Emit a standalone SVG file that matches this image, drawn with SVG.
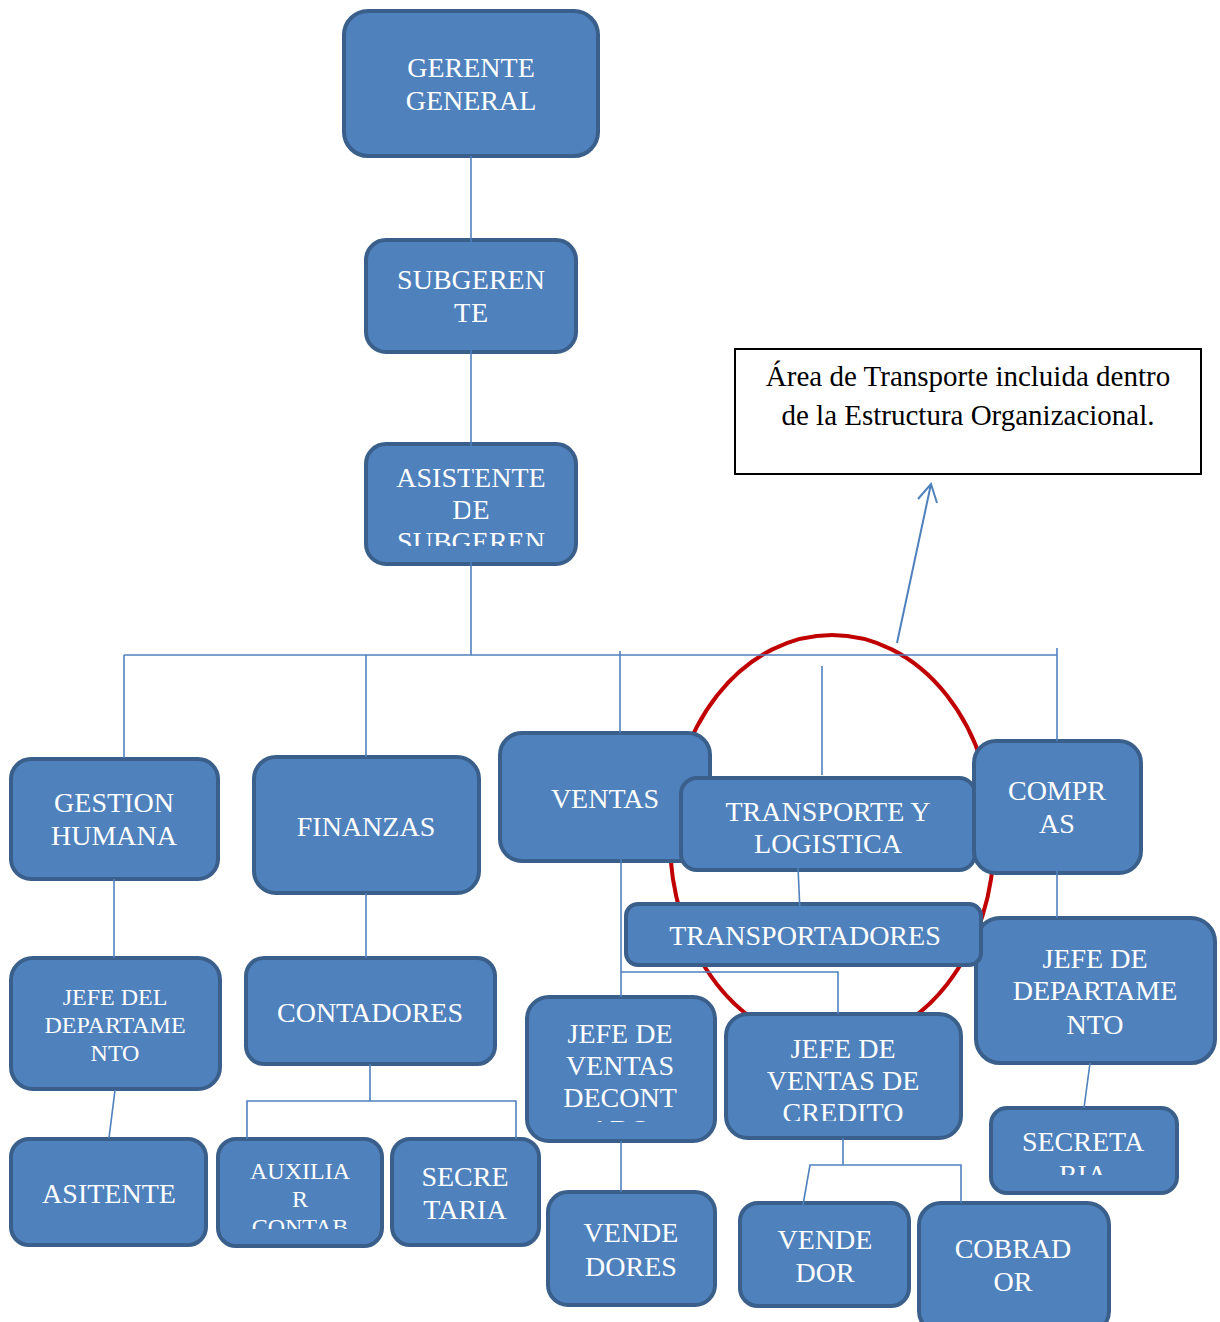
<svg xmlns="http://www.w3.org/2000/svg" width="1220" height="1322" viewBox="0 0 1220 1322">
<style>
.box{fill:#4F81BD;stroke:#3A5F8B;stroke-width:4}
.t{font-family:"Liberation Serif","Times New Roman",serif;font-size:28px;fill:#FFFFFF;text-anchor:middle}
.s{font-size:24px}
.c{fill:none;stroke:#4F81BD;stroke-width:1.6}
.note{font-family:"Liberation Serif","Times New Roman",serif;font-size:29px;fill:#000000;text-anchor:middle}
</style>
<defs>
<clipPath id="cpAsis"><rect x="366" y="444" width="210" height="102"/></clipPath>
<clipPath id="cpAux"><rect x="218" y="1139" width="164" height="90"/></clipPath>
<clipPath id="cpSecR"><rect x="991" y="1108" width="186" height="67"/></clipPath>
<clipPath id="cpJvc"><rect x="527" y="997" width="188" height="125"/></clipPath>
<clipPath id="cpJvcr"><rect x="726" y="1014" width="235" height="107"/></clipPath>
</defs>
<rect width="1220" height="1322" fill="#FFFFFF"/>

<ellipse id="highlight" cx="832" cy="840" rx="162" ry="205" fill="none" stroke="#C00000" stroke-width="4"/>

<g id="n-gerente"><rect class="box" x="344" y="11" width="254" height="145" rx="24"/>
<text class="t" x="471" y="77">GERENTE</text><text class="t" x="471" y="110">GENERAL</text></g>
<g id="n-subgerente"><rect class="box" x="366" y="240" width="210" height="112" rx="20"/>
<text class="t" x="471" y="289">SUBGEREN</text><text class="t" x="471" y="322">TE</text></g>
<g id="n-asistente-sub"><rect class="box" x="366" y="444" width="210" height="120" rx="20"/>
<g clip-path="url(#cpAsis)"><text class="t" x="471" y="487">ASISTENTE</text><text class="t" x="471" y="519">DE</text><text class="t" x="471" y="551">SUBGEREN</text></g></g>

<g id="n-gestion"><rect class="box" x="11" y="759" width="207" height="120" rx="20"/>
<text class="t" x="114" y="812">GESTION</text><text class="t" x="114" y="845">HUMANA</text></g>
<g id="n-finanzas"><rect class="box" x="254" y="757" width="225" height="136" rx="22"/>
<text class="t" x="366" y="836">FINANZAS</text></g>
<g id="n-ventas"><rect class="box" x="500" y="733" width="210" height="128" rx="22"/>
<text class="t" x="605" y="808">VENTAS</text></g>
<g id="n-transporte"><rect class="box" x="681" y="778" width="294" height="92" rx="16"/>
<text class="t" x="828" y="821">TRANSPORTE Y</text><text class="t" x="828" y="853">LOGISTICA</text></g>
<g id="n-compras"><rect class="box" x="974" y="741" width="167" height="132" rx="22"/>
<text class="t" x="1057" y="800">COMPR</text><text class="t" x="1057" y="833">AS</text></g>
<g id="n-jefe-dep-r"><rect class="box" x="976" y="918" width="239" height="145" rx="24"/>
<text class="t" x="1095" y="968">JEFE DE</text><text class="t" x="1095" y="1000">DEPARTAME</text><text class="t" x="1095" y="1034">NTO</text></g>
<g id="n-transportadores"><rect class="box" x="626" y="904" width="355" height="61" rx="12"/>
<text class="t" x="805" y="945">TRANSPORTADORES</text></g>
<g id="n-secretaria-r"><rect class="box" x="991" y="1108" width="186" height="85" rx="16"/>
<g clip-path="url(#cpSecR)"><text class="t" x="1083" y="1151">SECRETA</text><text class="t" x="1083" y="1184">RIA</text></g></g>

<g id="n-jefe-dep-l"><rect class="box" x="11" y="958" width="209" height="131" rx="22"/>
<text class="t s" x="115" y="1005">JEFE DEL</text><text class="t s" x="115" y="1033">DEPARTAME</text><text class="t s" x="115" y="1061">NTO</text></g>
<g id="n-contadores"><rect class="box" x="246" y="958" width="249" height="106" rx="18"/>
<text class="t" x="370" y="1022">CONTADORES</text></g>
<g id="n-asitente"><rect class="box" x="11" y="1139" width="195" height="106" rx="18"/>
<text class="t" x="109" y="1203">ASITENTE</text></g>
<g id="n-auxiliar"><rect class="box" x="218" y="1139" width="164" height="107" rx="18"/>
<g clip-path="url(#cpAux)"><text class="t s" x="300" y="1179">AUXILIA</text><text class="t s" x="300" y="1207">R</text><text class="t s" x="300" y="1235">CONTAB</text></g></g>
<g id="n-secretaria-l"><rect class="box" x="392" y="1139" width="147" height="106" rx="18"/>
<text class="t" x="465" y="1186">SECRE</text><text class="t" x="465" y="1219">TARIA</text></g>
<g id="n-jv-contado"><rect class="box" x="527" y="997" width="188" height="144" rx="22"/>
<g clip-path="url(#cpJvc)"><text class="t" x="620" y="1043">JEFE DE</text><text class="t" x="620" y="1075">VENTAS</text><text class="t" x="620" y="1107">DECONT</text><text class="t" x="620" y="1139">ADO</text></g></g>
<g id="n-jv-credito"><rect class="box" x="726" y="1014" width="235" height="124" rx="22"/>
<g clip-path="url(#cpJvcr)"><text class="t" x="843" y="1058">JEFE DE</text><text class="t" x="843" y="1090">VENTAS DE</text><text class="t" x="843" y="1122">CREDITO</text></g></g>
<g id="n-vendedores"><rect class="box" x="548" y="1192" width="167" height="113" rx="20"/>
<text class="t" x="631" y="1242">VENDE</text><text class="t" x="631" y="1276">DORES</text></g>
<g id="n-vendedor"><rect class="box" x="740" y="1203" width="169" height="103" rx="18"/>
<text class="t" x="825" y="1249">VENDE</text><text class="t" x="825" y="1282">DOR</text></g>
<g id="n-cobrador"><rect class="box" x="919" y="1203" width="190" height="130" rx="22"/>
<text class="t" x="1013" y="1258">COBRAD</text><text class="t" x="1013" y="1291">OR</text></g>

<g id="connectors">
<path class="c" d="M471 156V655"/>
<path class="c" d="M124 655H1057"/>
<path class="c" d="M124 655V758"/>
<path class="c" d="M366 655V757"/>
<path class="c" d="M620 651V733"/>
<path class="c" d="M822 666V775"/>
<path class="c" d="M1057 648V741"/>
<path class="c" d="M114 879V958"/>
<path class="c" d="M115 1090L109 1138"/>
<path class="c" d="M366 893V958"/>
<path class="c" d="M370 1064V1101M247 1139V1101H516V1139"/>
<path class="c" d="M621 855V997"/>
<path class="c" d="M621 972H838V1014"/>
<path class="c" d="M798 867L800 912"/>
<path class="c" d="M621 1141V1192"/>
<path class="c" d="M843 1138V1165M803 1205L810 1165H961V1203"/>
<path class="c" d="M1057 853V918"/>
<path class="c" d="M1090 1063L1084 1108"/>
</g>

<g id="callout">
<path d="M897 643L931 484M918 499L931 484L937 503" fill="none" stroke="#4F81BD" stroke-width="2"/>
<rect x="735" y="349" width="466" height="125" fill="#FFFFFF" stroke="#000000" stroke-width="2"/>
<text class="note" x="968" y="386">Área de Transporte incluida dentro</text>
<text class="note" x="968" y="425">de la Estructura Organizacional.</text>
</g>
</svg>
